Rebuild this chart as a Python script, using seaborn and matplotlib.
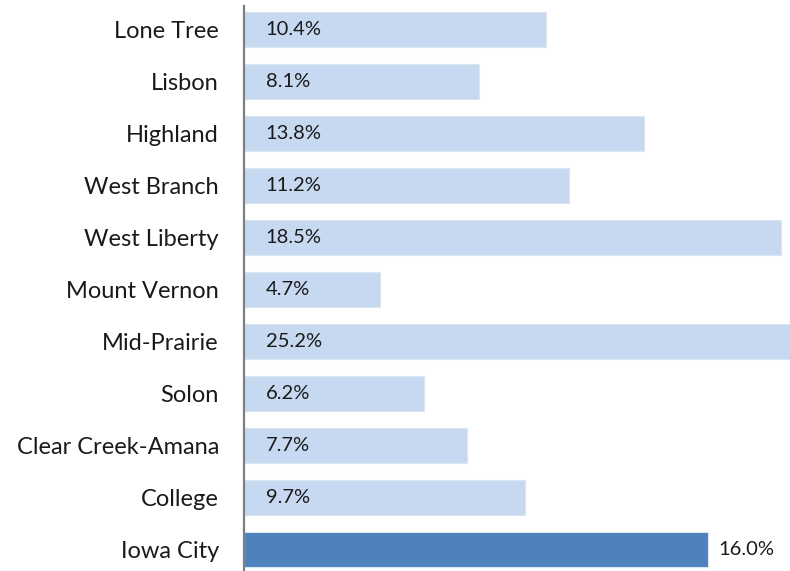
import matplotlib
matplotlib.use("Agg")
import matplotlib.pyplot as plt
import seaborn as sns
import pandas as pd

districts = ['Lone Tree', 'Lisbon', 'Highland', 'West Branch', 'West Liberty',
             'Mount Vernon', 'Mid-Prairie', 'Solon', 'Clear Creek-Amana',
             'College', 'Iowa City']
rates = [10.4, 8.1, 13.8, 11.2, 18.5, 4.7, 25.2, 6.2, 7.7, 9.7, 16.0]
labels = ['10.4%', '8.1%', '13.8%', '11.2%', '18.5%', '4.7%', '25.2%',
          '6.2%', '7.7%', '9.7%', '16.0%']

light = '#C6D9F1'
dark = '#4F81BD'
colors = [dark if d == 'Iowa City' else light for d in districts]

sns.set_style("white")
plt.rcParams['font.family'] = ['Lato', 'DejaVu Sans']

df = pd.DataFrame({'district': districts, 'rate': rates})

fig = plt.figure(figsize=(7.9, 5.71), dpi=100)
ax = fig.add_axes([244 / 790, 0, 1 - 244 / 790, 1])

sns.barplot(data=df, x='rate', y='district', hue='district',
            palette=dict(zip(districts, colors)), legend=False, saturation=1,
            width=0.67, edgecolor='#DCE6F2', linewidth=0.8, ax=ax)

ax.set_xlim(0, 546 / 29)
ax.set_ylim((571 - 29.5) / 52, -29.5 / 52)

for i, (v, lab, d) in enumerate(zip(rates, labels, districts)):
    if d == 'Iowa City':
        ax.text(v + 0.35, i, lab, va='center', ha='left', fontsize=14.5, color='#1a1a1a')
    else:
        ax.text(0.75, i, lab, va='center', ha='left', fontsize=14.5, color='#1a1a1a')

ax.set_xlabel('')
ax.set_ylabel('')
ax.set_xticks([])
ax.tick_params(axis='y', length=0, pad=18, labelsize=17, labelcolor='#1a1a1a')
for s in ['top', 'right', 'bottom']:
    ax.spines[s].set_visible(False)
ax.spines['left'].set_color('#7F7F7F')
ax.spines['left'].set_linewidth(1.6)
ax.spines['left'].set_bounds((571 - 29.5) / 52 - 0.02, -29.5 / 52 + 0.12)

fig.savefig('out.png', dpi=100)
